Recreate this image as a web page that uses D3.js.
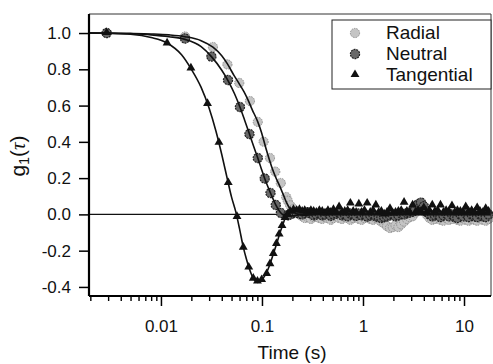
<!DOCTYPE html>
<html>
<head>
<meta charset="utf-8">
<script src="https://cdn.jsdelivr.net/npm/d3@7"></script>
<style>
	body { margin: 0; background: #fff; }
	svg { display: block; font-family: "Liberation Sans", Arial, sans-serif; }
</style>
</head>
<body>
<div id="chart"></div>
<script>
// correlation data (time in s)
// decay part, each series sampled at its own lag times
var radialTime = [0.0029, 0.0173, 0.0327, 0.0455, 0.0596, 0.076, 0.0909, 0.1039, 0.12, 0.1354, 0.1535, 0.1737];
var radialValue = [1.0, 0.981, 0.923, 0.827, 0.725, 0.625, 0.51, 0.401, 0.311, 0.236, 0.173, 0.096];

var neutralTime = [0.0029, 0.0173, 0.0316, 0.0461, 0.0605, 0.0752, 0.0909, 0.1064, 0.1214, 0.137, 0.154];
var neutralValue = [1.0, 0.97, 0.87, 0.741, 0.592, 0.443, 0.311, 0.198, 0.118, 0.052, 0.008];

var tangentialTime = [0.0029, 0.0115, 0.0198, 0.0289, 0.0375, 0.0464, 0.0566, 0.0653, 0.074, 0.082, 0.0902, 0.0993,
	0.1113, 0.12, 0.1294, 0.139, 0.148, 0.158, 0.169];
var tangentialValue = [1.0, 0.943, 0.805, 0.609, 0.395, 0.173, -0.014, -0.183, -0.293, -0.354, -0.37, -0.362,
	-0.329, -0.274, -0.218, -0.163, -0.111, -0.064, -0.02];

// noisy baseline part, shared lag times
var tailTime = [0.18, 0.19, 0.205, 0.22, 0.235, 0.25, 0.265, 0.285, 0.305, 0.325, 0.345, 0.37, 0.395, 0.42, 0.45,
	0.48, 0.51, 0.545, 0.58, 0.62, 0.66, 0.705, 0.75, 0.8, 0.855, 0.91, 0.97, 1.035, 1.1, 1.18, 1.26, 1.34, 1.43, 1.52,
	1.62, 1.73, 1.85, 1.97, 2.1, 2.24, 2.39, 2.55, 2.72, 2.9, 3.1, 3.3, 3.5, 3.75, 4.0, 4.25, 4.55, 4.85, 5.15, 5.5,
	5.85, 6.25, 6.65, 7.1, 7.6, 8.1, 8.6, 9.2, 9.8, 10.4, 11.1, 11.9, 12.7, 13.5, 14.4, 15.4, 16.4, 17.5];
var radialTail = [0.075, 0.05, 0.03, 0.012, 0.0, -0.01, -0.02, -0.015, -0.025, -0.015, -0.01, -0.02, -0.025, -0.015,
	-0.02, -0.03, -0.02, -0.01, -0.02, -0.025, -0.015, -0.02, -0.03, -0.02, -0.015, -0.025, -0.03, -0.02, -0.01, -0.025,
	-0.03, -0.02, -0.03, -0.04, -0.05, -0.065, -0.075, -0.07, -0.06, -0.07, -0.055, -0.04, -0.025, -0.015, -0.01, 0.01,
	0.03, 0.04, 0.025, 0.0, -0.02, -0.03, -0.025, -0.02, -0.03, -0.035, -0.02, -0.03, -0.025, -0.015, -0.03, -0.035,
	-0.02, -0.03, -0.035, -0.025, -0.03, -0.035, -0.02, -0.03, -0.035, -0.025];
var neutralTail = [-0.005, 0.0, 0.008, 0.01, 0.005, 0.0, 0.008, 0.012, 0.005, -0.005, 0.0, 0.005, -0.005, 0.0, 0.008,
	-0.008, 0.0, 0.005, 0.01, -0.005, 0.0, -0.01, 0.005, 0.0, -0.008, 0.005, -0.005, 0.0, -0.012, -0.005, 0.0, -0.01,
	-0.015, -0.02, -0.015, -0.01, -0.005, 0.0, -0.01, -0.005, 0.005, 0.0, 0.008, 0.01, 0.015, 0.03, 0.055, 0.065, 0.045,
	0.015, 0.0, -0.01, -0.005, 0.0, -0.015, -0.005, 0.005, -0.01, 0.0, -0.015, -0.02, 0.0, -0.01, 0.005, -0.015, 0.0,
	-0.01, -0.015, 0.0, -0.01, -0.015, 0.0];
var tangentialTail = [0.0, 0.015, 0.025, 0.02, 0.025, 0.015, 0.02, 0.01, 0.02, 0.015, 0.01, 0.02, 0.015, 0.005, 0.02,
	0.01, 0.025, 0.01, 0.04, 0.01, 0.015, 0.02, 0.06, 0.015, 0.01, 0.055, 0.01, 0.02, 0.06, 0.01, 0.02, 0.05, 0.01,
	0.015, 0.0, 0.01, 0.03, 0.005, 0.01, 0.015, 0.02, 0.065, 0.015, 0.01, 0.05, 0.01, 0.02, 0.015, 0.035, 0.01, 0.02,
	0.05, 0.015, 0.02, 0.05, 0.01, 0.02, 0.015, 0.045, 0.01, 0.02, 0.015, 0.01, 0.04, 0.015, 0.02, 0.01, 0.035, 0.015,
	0.01, 0.03, 0.015];

// fitted curves
var radialFitTime = [0.00194, 0.003, 0.005, 0.008, 0.012, 0.0173, 0.025, 0.0327, 0.04, 0.0455, 0.053, 0.0596, 0.0665,
	0.0727, 0.08, 0.0909, 0.0993, 0.1039, 0.112, 0.1247, 0.1354, 0.1507, 0.1636, 0.1757, 0.19, 0.21, 0.25, 0.35, 18.5];
var radialFitValue = [1.0, 1.0, 0.998, 0.995, 0.99, 0.98, 0.958, 0.922, 0.875, 0.83, 0.765, 0.72, 0.675,
	0.631, 0.578, 0.51, 0.449, 0.41, 0.345, 0.263, 0.21, 0.153, 0.105, 0.063, 0.03, 0.008, -0.005, 0.0, 0.0];

var neutralFitTime = [0.00194, 0.003, 0.005, 0.008, 0.012, 0.0173, 0.025, 0.0316, 0.04, 0.0461, 0.0535, 0.0605,
	0.0675, 0.0752, 0.083, 0.0909, 0.0985, 0.1064, 0.114, 0.1214, 0.13, 0.137, 0.145, 0.154, 0.165, 0.18, 0.2, 0.25, 18.5];
var neutralFitValue = [1.0, 0.999, 0.996, 0.99, 0.98, 0.965, 0.925, 0.87, 0.795, 0.738, 0.665, 0.592,
	0.518, 0.443, 0.373, 0.311, 0.252, 0.198, 0.155, 0.118, 0.08, 0.052, 0.028, 0.008, -0.005, -0.01, -0.008, 0.0, 0.0];

var tangentialFitTime = [0.00194, 0.003, 0.005, 0.008, 0.0115, 0.016, 0.02, 0.025, 0.03, 0.035, 0.04, 0.045, 0.05,
	0.055, 0.06, 0.065, 0.07, 0.075, 0.08, 0.085, 0.09, 0.095, 0.1, 0.11, 0.12, 0.13, 0.14, 0.15, 0.16, 0.17, 0.18,
	0.2, 0.23, 0.27, 0.35, 0.5, 18.5];
var tangentialFitValue = [1.0, 0.998, 0.993, 0.975, 0.945, 0.88, 0.80, 0.70, 0.585, 0.46, 0.33, 0.205, 0.095,
	0.015, -0.08, -0.175, -0.245, -0.30, -0.34, -0.365, -0.375, -0.372, -0.36, -0.325, -0.275, -0.215, -0.16, -0.105,
	-0.06, -0.02, 0.005, 0.025, 0.03, 0.025, 0.01, 0.0, 0.0];

var seriesNames = ["Radial", "Neutral", "Tangential"];
var xTickValues = [0.01, 0.1, 1, 10];
var xTickLabels = ["0.01", "0.1", "1", "10"];
var yTickValues = [-0.4, -0.2, 0.0, 0.2, 0.4, 0.6, 0.8, 1.0];

(function() {
	var width = 493, height = 364;
	var pLeft = 89, pRight = 491, pTop = 14, pBottom = 296;

	var svg = d3.select("#chart").append("svg")
		.attr("width", width)
		.attr("height", height);

	var x = d3.scaleLog().domain([0.00194, 18.5]).range([pLeft, pRight]);
	var y = d3.scaleLinear().domain([-0.45, 1.105]).range([pBottom, pTop]);

	function zip(t, v) {
		return t.map(function(d, i) { return {t: d, v: v[i]}; });
	}

	var series = [
		{name: "Radial", points: zip(radialTime, radialValue).concat(zip(tailTime, radialTail)),
			fit: zip(radialFitTime, radialFitValue)},
		{name: "Neutral", points: zip(neutralTime, neutralValue).concat(zip(tailTime, neutralTail)),
			fit: zip(neutralFitTime, neutralFitValue)},
		{name: "Tangential", points: zip(tangentialTime, tangentialValue).concat(zip(tailTime, tangentialTail)),
			fit: zip(tangentialFitTime, tangentialFitValue)}
	];

	/*
	marker drawing, one per series
	*/
	var triangle = d3.symbol().type(d3.symbolTriangle).size(34);

	function drawMarker(sel, name) {
		if (name === "Radial") {
			sel.append("circle").attr("r", 4.6)
				.attr("fill", "#c4c4c4")
				.attr("stroke", "#8e8e8e")
				.attr("stroke-width", 1)
				.attr("stroke-dasharray", "1.5,1");
		} else if (name === "Neutral") {
			sel.append("circle").attr("r", 4.6)
				.attr("fill", "#686868")
				.attr("stroke", "#222")
				.attr("stroke-width", 1.2)
				.attr("stroke-dasharray", "2,0.8");
		} else {
			sel.append("path").attr("d", triangle)
				.attr("transform", "translate(0,-0.5)")
				.attr("fill", "#111");
		}
	}

	// zero line
	svg.append("line")
		.attr("x1", pLeft).attr("x2", pRight)
		.attr("y1", y(0)).attr("y2", y(0))
		.attr("stroke", "#111").attr("stroke-width", 1.2);

	var plot = svg.append("g").attr("class", "plot");

	series.forEach(function(s) {
		plot.append("g").attr("class", "markers")
			.selectAll("g")
			.data(s.points).enter().append("g")
			.attr("transform", function(d) {
				return "translate(" + x(d.t) + "," + y(d.v) + ")";
			})
			.each(function() { drawMarker(d3.select(this), s.name); });
	});

	var line = d3.line()
		.x(function(d) { return x(d.t); })
		.y(function(d) { return y(d.v); })
		.curve(d3.curveMonotoneX);

	plot.selectAll("path.fit")
		.data(series).enter().append("path")
		.attr("class", "fit")
		.attr("d", function(d) { return line(d.fit); })
		.attr("fill", "none")
		.attr("stroke", "#111")
		.attr("stroke-width", 1.6);

	// frame, top and right
	svg.append("path")
		.attr("d", "M" + pLeft + "," + pTop + "H" + pRight + "V" + pBottom)
		.attr("fill", "none")
		.attr("stroke", "#333")
		.attr("stroke-width", 1);

	// axes
	var yAxis = d3.axisLeft(y)
		.tickValues(yTickValues)
		.tickFormat(function(d) { return d.toFixed(1); })
		.tickSize(10).tickSizeOuter(0).tickPadding(8);

	svg.append("g")
		.attr("transform", "translate(" + pLeft + ",0)")
		.call(yAxis)
		.call(function(g) {
			g.select(".domain").attr("stroke-width", 2.2).attr("d", "M0," + pTop + "V" + pBottom);
			g.selectAll(".tick line").attr("stroke-width", 1.5);
			g.selectAll("text").attr("font-size", 17).attr("fill", "#111").attr("font-family", null);
		});

	var xMinor = x.ticks().filter(function(d) { return xTickValues.indexOf(d) < 0; });

	svg.append("g")
		.attr("transform", "translate(0," + pBottom + ")")
		.call(d3.axisBottom(x).tickValues(xMinor).tickSize(5).tickSizeOuter(0).tickFormat(""))
		.call(function(g) {
			g.select(".domain").remove();
			g.selectAll(".tick line").attr("stroke-width", 1.4);
		});

	svg.append("g")
		.attr("transform", "translate(0," + pBottom + ")")
		.call(d3.axisBottom(x)
			.tickValues(xTickValues)
			.tickFormat(function(d, i) { return xTickLabels[i]; })
			.tickSize(10).tickSizeOuter(0).tickPadding(14))
		.call(function(g) {
			g.select(".domain").attr("stroke-width", 2.2).attr("d", "M" + pLeft + ",0H" + pRight);
			g.selectAll(".tick line").attr("stroke-width", 1.5);
			g.selectAll("text").attr("font-size", 17).attr("fill", "#111").attr("font-family", null);
		});

	// axis titles
	svg.append("text")
		.attr("x", (pLeft + pRight) / 2 + 2)
		.attr("y", 359)
		.attr("text-anchor", "middle")
		.attr("font-size", 19)
		.attr("fill", "#111")
		.text("Time (s)");

	var ylab = svg.append("text")
		.attr("transform", "translate(25,156) rotate(-90)")
		.attr("text-anchor", "middle")
		.attr("font-size", 21)
		.attr("fill", "#111");
	ylab.append("tspan").text("g");
	ylab.append("tspan").attr("dy", 4).attr("font-size", 14).text("1");
	ylab.append("tspan").attr("dy", -4).text("(");
	ylab.append("tspan").attr("font-family", "'Liberation Serif', serif").attr("font-style", "italic").text("τ");
	ylab.append("tspan").text(")");

	// legend
	var legend = svg.append("g").attr("class", "legend");
	legend.append("rect")
		.attr("x", 332).attr("y", 20)
		.attr("width", 159).attr("height", 69)
		.attr("fill", "#fff")
		.attr("stroke", "#222")
		.attr("stroke-width", 1);

	var rows = legend.selectAll("g.row")
		.data(seriesNames).enter().append("g")
		.attr("class", "row")
		.attr("transform", function(d, i) { return "translate(0," + (39 + i * 21) + ")"; });

	rows.append("g")
		.attr("transform", "translate(355,-6)")
		.each(function(d) { drawMarker(d3.select(this), d); });

	rows.append("text")
		.attr("x", 386)
		.attr("font-size", 19)
		.attr("fill", "#111")
		.text(function(d) { return d; });
})();
</script>
</body>
</html>
